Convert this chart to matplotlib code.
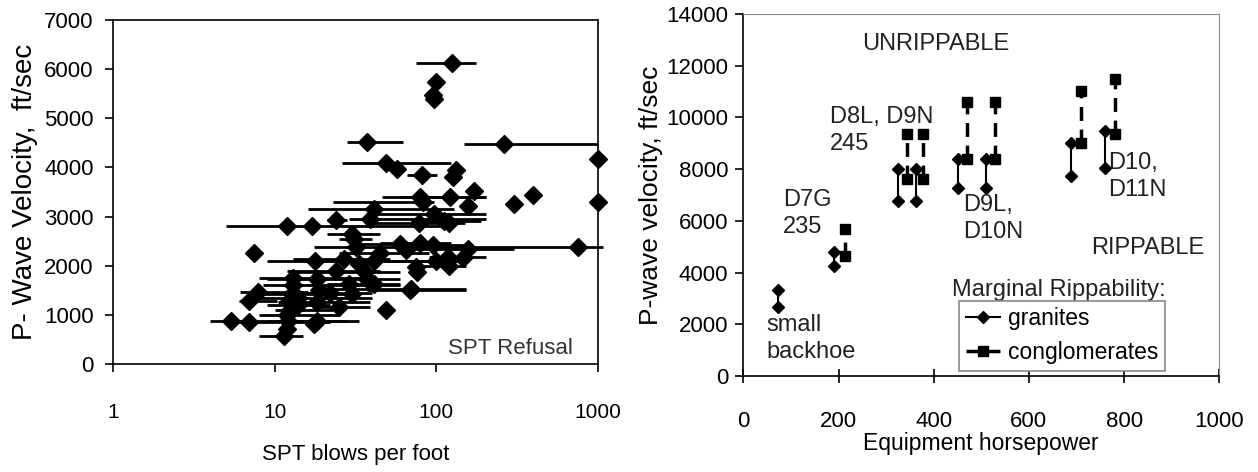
import numpy as np
import matplotlib.pyplot as plt
from matplotlib.lines import Line2D
from matplotlib.ticker import FixedLocator, NullLocator

plt.rcParams['font.family'] = ['Liberation Sans', 'DejaVu Sans']

# Left panel: SPT blows per foot vs P-wave velocity (with SPT ranges)
spt = [125, 99, 96, 97, 37, 263, 1000, 49, 57, 82, 132, 126, 171, 79, 83, 122, 300, 396,
       1000, 157, 41, 39, 97, 111, 120, 78, 12, 17, 24, 30, 31, 32, 65, 79, 96, 157, 118,
       146, 120, 75, 76, 7.4, 17.7, 27, 33, 41, 36, 37.5, 18.3, 29, 41, 69, 30, 18.8, 7.9,
       6.9, 12.8, 12.2, 18.3, 25, 48.5, 12.5, 5.4, 6.9, 12.1, 18.3, 17.4, 11.9, 11.4, 752,
       69.5, 13, 12, 14, 22, 14, 24, 60, 100, 45, 13]
vp = [6120, 5740, 5470, 5390, 4520, 4480, 4170, 4100, 3960, 3840, 3950, 3810, 3520, 3390,
      3290, 3390, 3260, 3430, 3300, 3220, 3160, 2960, 3060, 2920, 2870, 2870, 2800, 2800,
      2940, 2650, 2550, 2380, 2310, 2460, 2420, 2350, 2180, 2160, 1990, 1970, 1870, 2260,
      2090, 2140, 2040, 2090, 1870, 1730, 1730, 1630, 1630, 1500, 1430, 1500, 1460, 1290,
      1430, 1290, 1260, 1160, 1090, 1090, 880, 850, 880, 880, 820, 710, 580, 2380, 1530,
      1600, 1000, 1350, 1450, 1200, 1900, 2450, 2100, 2250, 1750]
spt_lo = [75, 99, 96, 97, 28, 149, 1000, 26, 57, 66, 118, 126, 171, 46, 23, 60, 300, 396,
          1000, 157, 16, 29, 39, 70, 120, 40, 5.0, 17, 21, 21, 25, 17.5, 65, 45, 55, 70, 90,
          146, 80, 75, 76, 7.4, 9.0, 13, 33, 23, 13, 37.5, 9.0, 21, 41, 37, 30, 18.8, 6.1,
          6.0, 7.5, 12.2, 10.5, 17, 48.5, 10, 4.0, 5.0, 9, 9, 17.4, 11.9, 8.0, 304, 20, 8.5,
          8, 7, 12, 9, 12, 30, 50, 25, 8]
spt_hi = [176, 99, 96, 97, 62, 1000, 1000, 123, 57, 101, 150, 126, 171, 203, 97, 203, 300,
          396, 1000, 157, 128, 203, 203, 190, 120, 150, 123, 17, 28, 45, 40, 305, 65, 123,
          150, 300, 203, 146, 152, 75, 76, 7.4, 54, 52, 33, 97, 60, 37.5, 60, 60, 41, 152,
          30, 18.8, 16, 10.4, 33, 12.2, 39, 39, 48.5, 23, 9.0, 22, 33, 28, 17.4, 11.9, 15,
          1076, 152, 60, 25, 40, 40, 22, 45, 110, 160, 90, 35]

# Right panel: equipment horsepower vs marginal rippability velocity
granite_hp = [73, 190, 326, 362, 452, 510, 688, 760]
granite_lo = [2660, 4240, 6760, 6760, 7280, 7280, 7730, 8050]
granite_hi = [3310, 4800, 8020, 8020, 8380, 8380, 9000, 9480]
congl_hp = [214, 343, 378, 469, 529, 709, 781]
congl_lo = [4630, 7600, 7600, 8400, 8400, 9000, 9350]
congl_hi = [5690, 9350, 9350, 10600, 10600, 11030, 11480]

fig = plt.figure(figsize=(12.58, 4.72), dpi=100)

# ---- left panel
ax1 = fig.add_axes([0.0898, 0.2288, 0.3856, 0.7288])
spt_a = np.array(spt)
xerr = [spt_a - np.array(spt_lo), np.array(spt_hi) - spt_a]
ax1.errorbar(spt, vp, xerr=xerr, fmt='D', color='black', ms=9, lw=2,
             capsize=0, clip_on=False, zorder=3)
ax1.set_xscale('log')
ax1.set_xlim(1, 1000)
ax1.set_ylim(0, 7000)
ax1.xaxis.set_major_locator(FixedLocator([1, 10, 100, 1000]))
ax1.xaxis.set_minor_locator(NullLocator())
ax1.set_xticklabels(['1', '10', '100', '1000'])
ax1.set_yticks(range(0, 7001, 1000))
ax1.tick_params(direction='out', length=6, width=1.2, labelsize=16, pad=8)
ax1.tick_params(axis='x', labelsize=15, pad=22)
ax1.set_xlabel('SPT blows per foot', fontsize=16, labelpad=16)
ax1.set_ylabel('P- Wave Velocity,  ft/sec', fontsize=20, labelpad=4)
ax1.text(0.69, 0.03, 'SPT Refusal', transform=ax1.transAxes, fontsize=16,
         color='#333333')
for s in ax1.spines.values():
    s.set_linewidth(1.2)

# ---- right panel
ax2 = fig.add_axes([0.5909, 0.2034, 0.3783, 0.7669])
for hp, lo, hi in zip(granite_hp, granite_lo, granite_hi):
    ax2.plot([hp, hp], [lo, hi], color='black', lw=1.5, marker='D', ms=6)
for hp, lo, hi in zip(congl_hp, congl_lo, congl_hi):
    ax2.plot([hp, hp], [lo, hi], color='black', lw=2.5, ls=(0, (4, 2.5)),
             marker='s', ms=7)
ax2.set_xlim(0, 1000)
ax2.set_ylim(0, 14000)
ax2.set_xticks(range(0, 1001, 200))
ax2.set_yticks(range(0, 14001, 2000))
ax2.tick_params(direction='out', length=6, width=1.2, labelsize=16, pad=5)
ax2.tick_params(axis='x', direction='inout', length=10, pad=20)
ax2.set_xlabel('Equipment horsepower', fontsize=16.5, labelpad=0)
ax2.set_ylabel('P-wave velocity, ft/sec', fontsize=19, labelpad=2)
for side in ['top', 'right']:
    ax2.spines[side].set_color('#888888')
for side in ['left', 'bottom']:
    ax2.spines[side].set_linewidth(1.2)

txt = dict(fontsize=17, ha='left', va='center', linespacing=1.3, color='#222222')
ax2.text(249, 12840, 'UNRIPPABLE', **txt)
ax2.text(182, 9510, 'D8L, D9N\n245', **txt)
ax2.text(84, 6270, 'D7G\n235', **txt)
ax2.text(49, 1460, 'small\nbackhoe', **txt)
ax2.text(461, 6080, 'D9L,\nD10N', **txt)
ax2.text(767, 7730, 'D10,\nD11N', **txt)
ax2.text(730, 4950, 'RIPPABLE', **txt)
ax2.text(438, 3340, 'Marginal Rippability:', **txt)

handles = [Line2D([], [], color='black', lw=1.5, marker='D', ms=6),
           Line2D([], [], color='black', lw=2.5, ls=(0, (4, 2.5)), marker='s', ms=7)]
leg = ax2.legend(handles, ['granites', 'conglomerates'], loc='lower left',
                 bbox_to_anchor=(0.453, 0.015, 0.433, 0.195), mode='expand',
                 fontsize=16.5, handlelength=1.5, handletextpad=0.35, borderpad=0.3,
                 labelspacing=0.45, borderaxespad=0, fancybox=False, framealpha=1)
leg.get_frame().set_edgecolor('#888888')
leg.get_frame().set_linewidth(1.2)

fig.savefig('out.png', dpi=100)
